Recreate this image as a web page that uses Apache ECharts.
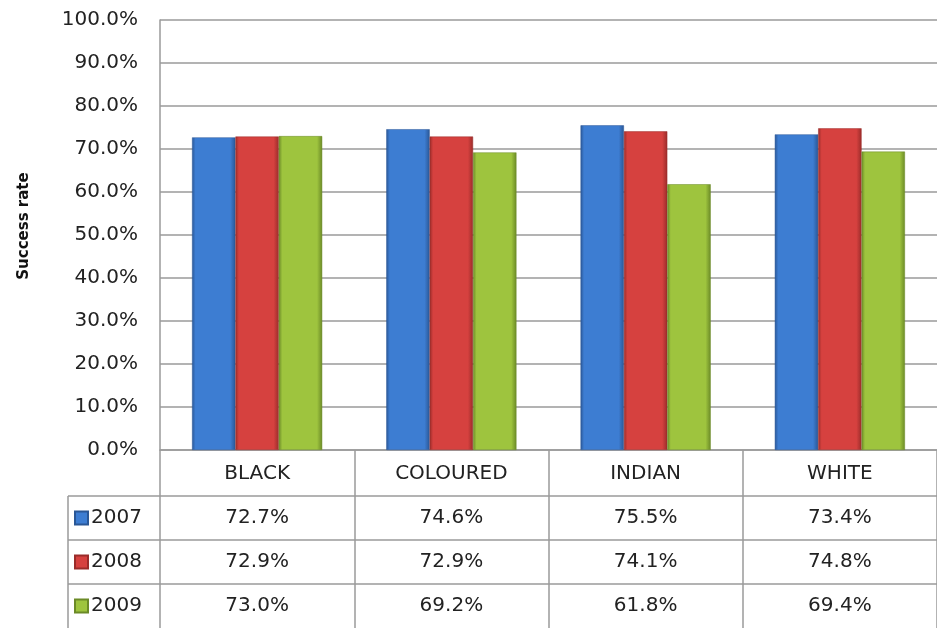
<!DOCTYPE html>
<html><head><meta charset="utf-8">
<script src="https://cdn.jsdelivr.net/npm/echarts@6/dist/echarts.min.js"></script>
<style>html,body{margin:0;padding:0;background:#fff}#c{width:937px;height:628px}</style>
</head><body><div id="c"></div>
<script>
var categories = ['BLACK', 'COLOURED', 'INDIAN', 'WHITE'];
var seriesNames = ['2007', '2008', '2009'];
var v2007 = [72.7, 74.6, 75.5, 73.4];
var v2008 = [72.9, 72.9, 74.1, 74.8];
var v2009 = [73.0, 69.2, 61.8, 69.4];
var yTicks = [0, 10, 20, 30, 40, 50, 60, 70, 80, 90, 100];
var values = [v2007, v2008, v2009];

var FONT = 'DejaVu Sans';
var TXT = '#222';
var LINE = '#9a9a9a';
var base = ['#3d7dd2', '#d6413f', '#9ec43e'];
var edge = ['#2a5796', '#9a2c2a', '#6b8a27'];

function grad(i) {
  return new echarts.graphic.LinearGradient(0, 0, 1, 0, [
    {offset: 0, color: edge[i]}, {offset: 0.08, color: base[i]},
    {offset: 0.88, color: base[i]}, {offset: 1, color: edge[i]}
  ]);
}

var chart = echarts.init(document.getElementById('c'));
var series = seriesNames.map(function (n, i) {
  return {
    name: n, type: 'bar', data: values[i], barGap: '0%', barCategoryGap: '33%',
    itemStyle: {color: grad(i), borderColor: edge[i], borderWidth: 0.5},
    emphasis: {disabled: true}
  };
});

chart.setOption({
  animation: false,
  textStyle: {fontFamily: FONT},
  grid: {left: 160, top: 20, right: -3, bottom: 178},
  legend: {
    orient: 'vertical', left: 74, top: 508, itemGap: 24, itemWidth: 13, itemHeight: 13, icon: 'rect',
    padding: 0,
    textStyle: {fontFamily: FONT, fontSize: 20, color: TXT, lineHeight: 20, padding: [0, 0, 0, -2]},
    data: seriesNames.map(function (n, i) { return {name: n, itemStyle: {color: grad(i)}}; })
  },
  xAxis: {
    type: 'category', data: categories,
    axisLine: {lineStyle: {color: LINE, width: 1.5}},
    axisTick: {show: true, interval: 0, length: 180, lineStyle: {color: LINE, width: 1.5}},
    axisLabel: {
      interval: 0, margin: 2, fontFamily: FONT, fontSize: 20, color: TXT, lineHeight: 44,
      formatter: function (v, idx) {
        return [v].concat(values.map(function (arr) { return arr[idx].toFixed(1) + '%'; })).join('\n');
      }
    }
  },
  yAxis: {
    type: 'value', min: 0, max: 100, interval: 10,
    name: 'Success rate', nameLocation: 'middle', nameGap: 128, nameRotate: 90,
    nameTextStyle: {fontFamily: FONT, fontSize: 15, fontWeight: 'bold', color: '#111', padding: [0, 0, 0, 18]},
    axisLine: {show: true, lineStyle: {color: LINE, width: 1.5}},
    axisTick: {show: false},
    splitLine: {lineStyle: {color: LINE, width: 1.5}},
    axisLabel: {margin: 22, fontFamily: FONT, fontSize: 20, color: TXT,
      formatter: function (v) { return v.toFixed(1) + '%'; }}
  },
  graphic: [
    {type: 'line', shape: {x1: 68, y1: 496, x2: 937, y2: 496}, style: {stroke: LINE, lineWidth: 1.5}},
    {type: 'line', shape: {x1: 68, y1: 540, x2: 937, y2: 540}, style: {stroke: LINE, lineWidth: 1.5}},
    {type: 'line', shape: {x1: 68, y1: 584, x2: 937, y2: 584}, style: {stroke: LINE, lineWidth: 1.5}},
    {type: 'line', shape: {x1: 68, y1: 496, x2: 68, y2: 628}, style: {stroke: LINE, lineWidth: 1.5}}
  ],
  series: series
});
</script></body></html>
